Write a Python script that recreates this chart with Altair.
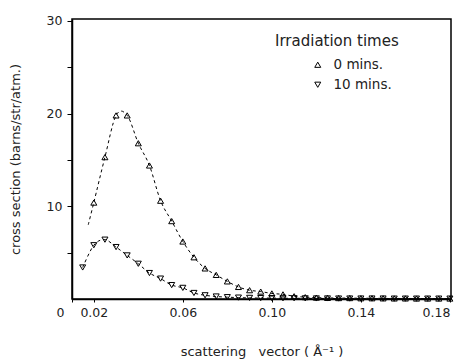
import altair as alt
import pandas as pd

# scattering vector (1/Å) and cross section (barns/str/atm.)
q_up = [0.020, 0.025, 0.030, 0.035, 0.040, 0.045, 0.050, 0.055, 0.060, 0.065,
        0.070, 0.075, 0.080, 0.085, 0.090, 0.095, 0.100, 0.105, 0.110, 0.115,
        0.120, 0.125, 0.130, 0.135, 0.140, 0.145, 0.150, 0.155, 0.160, 0.165,
        0.170, 0.175, 0.180]
s_up = [10.4, 15.3, 19.8, 19.8, 16.8, 14.4, 10.6, 8.4, 6.2, 4.5,
        3.3, 2.6, 1.9, 1.3, 0.95, 0.8, 0.6, 0.5, 0.3, 0.2,
        0.15, 0.12, 0.1, 0.1, 0.08, 0.08, 0.07, 0.06, 0.06, 0.05,
        0.05, 0.05, 0.05]

q_dn = [0.015, 0.020, 0.025, 0.030, 0.035, 0.040, 0.045, 0.050, 0.055, 0.060,
        0.065, 0.070, 0.075, 0.080, 0.085, 0.090, 0.095, 0.100, 0.105, 0.110,
        0.115, 0.120, 0.125, 0.130, 0.135, 0.140, 0.145, 0.150, 0.155, 0.160,
        0.165, 0.170, 0.175, 0.180]
s_dn = [3.4, 5.8, 6.4, 5.6, 4.7, 3.8, 2.8, 2.2, 1.5, 1.2,
        0.65, 0.4, 0.27, 0.2, 0.15, 0.12, 0.1, 0.1, 0.08, 0.08,
        0.07, 0.06, 0.06, 0.05, 0.05, 0.05, 0.05, 0.05, 0.04, 0.04,
        0.04, 0.04, 0.04, 0.04]

# dashed fitted curve for 0 mins starts a little before the first point
curve_up_start_q = [0.0175]
curve_up_start_s = [8.0]

series_names = ["0 mins.", "10 mins."]
x_ticks = [0.0102, 0.02, 0.06, 0.10, 0.14, 0.18]
y_ticks = [5, 10, 15, 20, 25, 30]

pts = pd.DataFrame({
    "q": q_up + q_dn,
    "s": s_up + s_dn,
    "series": [series_names[0]] * len(q_up) + [series_names[1]] * len(q_dn),
})
curve = pd.DataFrame({
    "q": curve_up_start_q + q_up + q_dn,
    "s": curve_up_start_s + s_up + s_dn,
    "series": [series_names[0]] * (len(q_up) + 1) + [series_names[1]] * len(q_dn),
})

FONT = "DejaVu Sans"

x_enc = alt.X(
    "q:Q",
    scale=alt.Scale(domain=[0.0102, 0.1805], nice=False, zero=False),
    axis=alt.Axis(
        title="scattering\u00a0\u00a0\u00a0vector\u00a0( Å⁻¹ )",
        values=x_ticks,
        labelExpr="datum.value < 0.015 ? '0' : format(datum.value, '.2f')",
        labelAlign={"condition": {"test": "datum.value < 0.015 || datum.value > 0.175", "value": "right"}, "value": "center"},
        labelOffset={"condition": {"test": "datum.value < 0.015", "value": -8}, "value": 0},
        tickSize=3,
        labelPadding=4,
        titlePadding=27,
    ),
)
y_enc = alt.Y(
    "s:Q",
    scale=alt.Scale(domain=[0, 30.2], nice=False),
    axis=alt.Axis(
        title="cross section (barns/str/atm.)",
        values=y_ticks,
        labelExpr="datum.value % 10 == 0 ? datum.label : ''",
        tickSize=5,
        labelPadding=5,
        titlePadding=24,
    ),
)

lines = alt.Chart(curve).mark_line(
    strokeDash=[3, 3], strokeWidth=1, color="black", interpolate="cardinal"
).encode(x=x_enc, y=y_enc, detail="series:N")

points = alt.Chart(pts).mark_point(
    filled=False, size=36, strokeWidth=1, color="black", opacity=1
).encode(
    x=x_enc,
    y=y_enc,
    shape=alt.Shape(
        "series:N",
        scale=alt.Scale(domain=series_names, range=["triangle-up", "triangle-down"]),
        legend=alt.Legend(
            title="Irradiation times",
            orient="none",
            legendX=203,
            legendY=15,
            symbolOffset=36,
            symbolSize=36,
            symbolStrokeWidth=1,
            symbolStrokeColor="black",
            labelOffset=9,
            rowPadding=5,
            titlePadding=9,
        ),
    ),
)

chart = (
    alt.layer(lines, points)
    .properties(
        width=379,
        height=280,
        autosize=alt.AutoSizeParams(type="none"),
        padding={"left": 72, "top": 19, "right": 7, "bottom": 63},
    )
    .configure_view(stroke="black", strokeWidth=1.5)
    .configure_axis(
        grid=False,
        domainColor="black",
        domainWidth=1.5,
        tickColor="black",
        labelFont=FONT,
        labelFontSize=12.5,
        labelColor="#222",
        titleFont=FONT,
        titleFontSize=13,
        titleFontWeight="normal",
        titleColor="#222",
    )
    .configure_legend(
        titleFont=FONT,
        titleFontSize=15,
        titleFontWeight="normal",
        titleColor="#222",
        labelFont=FONT,
        labelFontSize=13.5,
        labelColor="#222",
    )
)

chart.save("out.html", embed_options={"renderer": "svg", "actions": False})
